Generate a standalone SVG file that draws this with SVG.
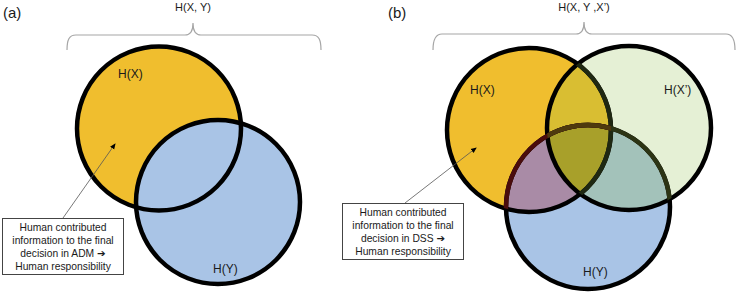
<svg xmlns="http://www.w3.org/2000/svg" width="737" height="293" viewBox="0 0 737 293">
<style>
text{font-family:"Liberation Sans","DejaVu Sans",Arial,sans-serif;fill:#1a1a1a}
.lbl{font-size:12px}
.top{font-size:11px;text-anchor:middle}
.pan{font-size:15px}
.box{fill:#fff;stroke:#444;stroke-width:1}
.bt{font-size:10.3px;text-anchor:middle}
.ring{fill:none;stroke:#000;stroke-width:4.5}
.brace{fill:none;stroke:#a6a6a6;stroke-width:1.2}
.lead{stroke:#555;stroke-width:0.8;fill:none}
</style>
<defs>
<marker id="ah" markerWidth="6" markerHeight="6" refX="5" refY="3" orient="auto" markerUnits="userSpaceOnUse">
<path d="M0,0.5 L6,3 L0,5.5 z" fill="#000"/>
</marker>
<clipPath id="cX"><circle cx="529" cy="130" r="82"/></clipPath>
<clipPath id="cXp"><circle cx="629" cy="128" r="82"/></clipPath>
<clipPath id="cY"><circle cx="588" cy="207" r="82"/></clipPath>
</defs>

<text class="pan" x="3" y="18">(a)</text>
<text class="pan" x="388" y="18">(b)</text>

<g id="brace-a">
<path class="brace" d="M67,50 C67,40 69,35 76,35 L185,35 C190,35 193,31 193,23 C193,31 196,35 201,35 L312,35 C319,35 321,40 321,50"/>
<text class="top" x="193" y="11">H(X, Y)</text>
</g>
<g id="brace-b">
<path class="brace" d="M433,50 C433,40 435,34 442,34 L576,34 C581,34 584,30 584,22 C584,30 587,34 592,34 L726,34 C733,34 735,40 735,50"/>
<text class="top" x="584" y="11">H(X, Y ,X’)</text>
</g>

<g id="a-HX">
<circle cx="159" cy="128.5" r="82" fill="#F0BE2E"/>
</g>
<g id="a-HY">
<circle cx="218" cy="202" r="82" fill="#A9C4E6"/>
</g>
<circle class="ring" cx="159" cy="128.5" r="82"/>
<circle class="ring" cx="218" cy="202" r="82"/>
<text class="lbl" x="118" y="78">H(X)</text>
<text class="lbl" x="213" y="273">H(Y)</text>

<g id="b-HX">
<circle cx="529" cy="130" r="82" fill="#F0BE2E"/>
</g>
<g id="b-HXp">
<circle cx="629" cy="128" r="82" fill="#E5F0D5"/>
</g>
<g id="b-HY">
<circle cx="588" cy="207" r="82" fill="#A9C4E6"/>
</g>
<g id="b-overlaps">
<circle cx="629" cy="128" r="82" fill="#D9BE32" clip-path="url(#cX)"/>
<circle cx="588" cy="207" r="82" fill="#A98BA6" clip-path="url(#cX)"/>
<circle cx="588" cy="207" r="82" fill="#A3C2BA" clip-path="url(#cXp)"/>
<g clip-path="url(#cX)"><circle cx="588" cy="207" r="82" fill="#A8A02A" clip-path="url(#cXp)"/></g>
</g>
<g id="b-rings">
<circle class="ring" cx="529" cy="130" r="82"/>
<circle class="ring" cx="629" cy="128" r="82"/>
<circle class="ring" cx="588" cy="207" r="82"/>
<circle class="ring" cx="529" cy="130" r="82" style="stroke:#1f2812" clip-path="url(#cXp)"/>
<circle class="ring" cx="588" cy="207" r="82" style="stroke:#2c3414" clip-path="url(#cXp)"/>
<circle class="ring" cx="588" cy="207" r="82" style="stroke:#4a0c0c" clip-path="url(#cX)"/>
<g clip-path="url(#cX)"><circle class="ring" cx="588" cy="207" r="82" style="stroke:#4e3a0e" clip-path="url(#cXp)"/></g>
</g>
<text class="lbl" x="470" y="94">H(X)</text>
<text class="lbl" x="664" y="94">H(X’)</text>
<text class="lbl" x="583" y="276">H(Y)</text>

<g id="connectors">
<line class="lead" x1="63" y1="218" x2="115" y2="144" marker-end="url(#ah)"/>
<line class="lead" x1="405" y1="203" x2="476" y2="148" marker-end="url(#ah)"/>
</g>

<g id="note-a">
<rect class="box" x="2.5" y="218.5" width="121" height="56"/>
<text class="bt" x="63" y="231">Human contributed</text>
<text class="bt" x="63" y="244">information to the final</text>
<text class="bt" x="63" y="257">decision in ADM ➔</text>
<text class="bt" x="63" y="270">Human responsibility</text>
</g>
<g id="note-b">
<rect class="box" x="342.5" y="203.5" width="121" height="56"/>
<text class="bt" x="403" y="216">Human contributed</text>
<text class="bt" x="403" y="229">information to the final</text>
<text class="bt" x="403" y="242">decision in DSS ➔</text>
<text class="bt" x="403" y="255">Human responsibility</text>
</g>
</svg>
